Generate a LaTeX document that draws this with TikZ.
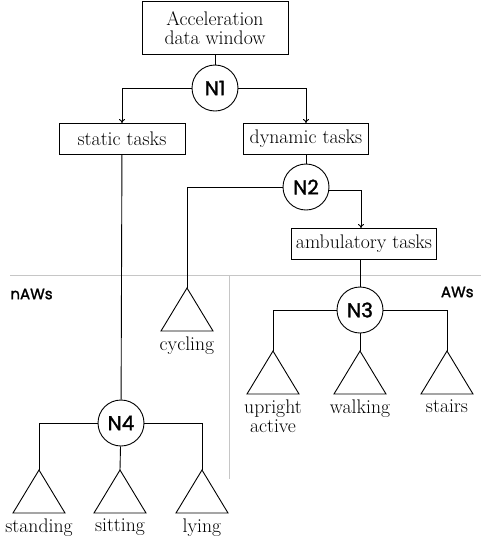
\documentclass[tikz,border=0pt]{standalone}
\usepackage{fontspec}
\usetikzlibrary{arrows.meta}
\newfontfamily\decfont{Poppins}[FakeBold=1.6]
\begin{document}
\begin{tikzpicture}[x=1pt,y=-1pt,line width=0.9pt,
  txt/.style={font=\fontsize{19.7}{19}\selectfont},
  taskbox/.style={txt,draw,align=center,inner sep=0pt,minimum height=31pt},
  decision/.style={draw,circle,minimum size=46pt,inner sep=0pt,font=\decfont\fontsize{20}{22}\selectfont},
  leaflabel/.style={txt,align=center,anchor=north,inner sep=0pt},
  region/.style={draw=gray!45,line width=0.8pt},
  regionlabel/.style={font=\decfont\fontsize{15}{17}\selectfont,inner sep=0pt},
  arr/.style={-{To[length=4pt,width=6pt]}}]
\useasboundingbox (0,0) rectangle (481,539);

% region separators
\coordinate (hl) at (10,275);
\coordinate (hr) at (481,275);
\coordinate (vt) at (229,275);
\coordinate (vb) at (229,479);
\draw[region] (hl) -- (hr);
\draw[region] (vt) -- (vb);
\node[regionlabel,anchor=west] (naw) at (10,294) {nAWs};
\node[regionlabel,anchor=east] (aw) at (474,292) {AWs};

% boxes
\node[taskbox,minimum width=146pt,minimum height=53pt] (win) at (215,28) {Acceleration\\data window};
\node[taskbox,minimum width=126pt] (static) at (122,139) {static tasks};
\node[taskbox,minimum width=125pt] (dyn) at (306,139) {dynamic tasks};
\node[taskbox,minimum width=145pt] (amb) at (364,244) {ambulatory tasks};

% decision nodes
\node[decision] (n1) at (215,88) {N1};
\node[decision] (n2) at (306,187) {N2};
\node[decision] (n3) at (360,310) {N3};
\node[decision] (n4) at (121,423) {N4};

% leaf apexes
\coordinate (cyc) at (187,288);
\coordinate (upr) at (273,351);
\coordinate (wlk) at (360,351);
\coordinate (str) at (447,351);
\coordinate (stn) at (39,470);
\coordinate (sit) at (120,470);
\coordinate (lie) at (202,470);

% leaves: triangle plus label
\foreach \c/\t in {cyc/cycling,upr/{upright\\active},wlk/walking,str/stairs,stn/standing,sit/sitting,lie/lying}{
  \draw[line join=miter] (\c) -- ++(-26,43) -- ++(52,0) -- cycle;
  \node[leaflabel] (\c-lbl) at ([yshift=-48pt]\c) {\t};
}

% connectors
\draw (win) -- (n1);
\draw[arr] (n1.west) -| (static.north);
\draw[arr] (n1.east) -| (dyn.north);
\draw (dyn) -- (n2);
\draw (n2.west) -| (cyc);
\draw[arr] (n2.-8) -| ([xshift=-3pt]amb.north);
\draw (static) -- (n4);
\draw ([xshift=-4pt]amb.south) -- (n3);
\draw (n3.west) -| (upr);
\draw (n3) -- (wlk);
\draw (n3.east) -| (str);
\draw (n4.west) -| (stn);
\draw (n4) -- (sit);
\draw (n4.east) -| (lie);
\end{tikzpicture}
\end{document}
